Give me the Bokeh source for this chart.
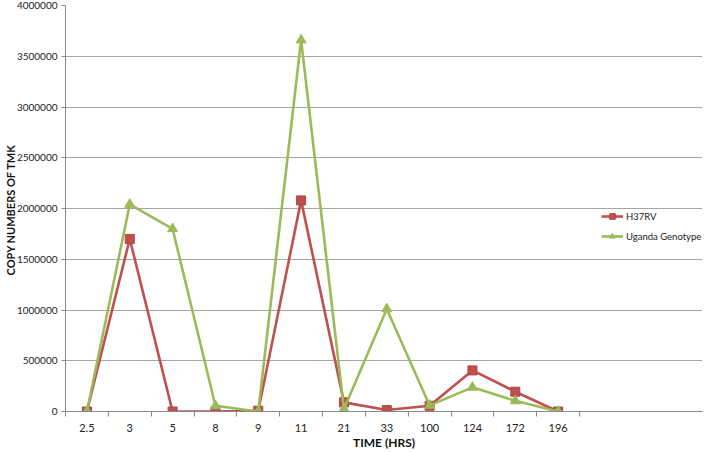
from bokeh.plotting import figure
from bokeh.models import Range1d, FixedTicker, BasicTickFormatter, Legend, LegendItem
from bokeh.embed import file_html
from bokeh.resources import INLINE

times = ["2.5", "3", "5", "8", "9", "11", "21", "33", "100", "124", "172", "196"]
h37rv = [0, 1700000, 0, 0, 8000, 2080000, 90000, 14000, 56000, 405000, 195000, 0]
uganda = [0, 2040000, 1800000, 56000, 0, 3660000, 25000, 1010000, 60000, 238000, 105000, 0]
y_ticks = [0, 500000, 1000000, 1500000, 2000000, 2500000, 3000000, 3500000, 4000000]

RED = "#C0504D"
GREEN = "#9BBB59"
FONT = "Lato"

xs = list(range(len(times)))

p = figure(width=709, height=452, output_backend="svg", toolbar_location=None,
           x_range=Range1d(-0.5, 14.37), y_range=Range1d(0, 4000000),
           min_border_left=64, min_border_right=7, min_border_top=5, min_border_bottom=0)
p.outline_line_color = None
p.background_fill_color = "white"

# x axis
p.xaxis.ticker = FixedTicker(ticks=xs, minor_ticks=[i - 0.5 for i in range(len(times) + 1)])
p.xaxis.major_label_overrides = {i: t for i, t in enumerate(times)}
p.xaxis.major_tick_line_color = None
p.xaxis.major_tick_out = 0
p.xaxis.major_tick_in = 0
p.xaxis.minor_tick_line_color = "#888888"
p.xaxis.minor_tick_out = 5
p.xaxis.minor_tick_in = 0
p.xaxis.axis_line_color = "#888888"
p.xaxis.axis_label = "TIME (HRS)"
p.xaxis.major_label_standoff = 7
p.xaxis.axis_label_standoff = 0
p.xgrid.grid_line_color = None

# y axis
p.yaxis.ticker = FixedTicker(ticks=y_ticks)
p.yaxis.formatter = BasicTickFormatter(use_scientific=False)
p.yaxis.major_tick_line_color = "#888888"
p.yaxis.major_tick_out = 4
p.yaxis.major_tick_in = 0
p.yaxis.minor_tick_line_color = None
p.yaxis.axis_line_color = "#888888"
p.yaxis.axis_label = "COPY NUMBERS  OF TMK"
p.yaxis.major_label_standoff = 4
p.yaxis.axis_label_standoff = -3
p.ygrid.grid_line_color = "#a6a6a6"
p.ygrid.grid_line_width = 1

for ax in (p.xaxis[0], p.yaxis[0]):
    ax.major_label_text_font = FONT
    ax.major_label_text_color = "#222222"
    ax.axis_label_text_font = FONT
    ax.axis_label_text_font_style = "bold"
    ax.axis_label_text_color = "#111111"
p.xaxis.major_label_text_font_size = "11px"
p.yaxis.major_label_text_font_size = "10px"
p.xaxis.axis_label_text_font_size = "12px"
p.yaxis.axis_label_text_font_size = "11px"

l1 = p.line(xs, h37rv, line_color=RED, line_width=2.6)
s1 = p.scatter(xs, h37rv, marker="square", size=9, fill_color=RED, line_color="#b04542")
l2 = p.line(xs, uganda, line_color=GREEN, line_width=2.6)
s2 = p.scatter(xs, uganda, marker="triangle", size=10, fill_color=GREEN, line_color=GREEN)

legend = Legend(items=[LegendItem(label="H37RV", renderers=[l1, s1]),
                       LegendItem(label="Uganda Genotype", renderers=[l2, s2])],
                location=(536, 168), padding=0, margin=0, spacing=6,
                glyph_width=22, glyph_height=14, label_height=14, label_standoff=3,
                background_fill_alpha=0, border_line_color=None,
                label_text_font=FONT, label_text_font_size="9.5px", label_text_color="#222222")
p.add_layout(legend, "center")

open("out.html", "w").write(file_html(p, INLINE))
